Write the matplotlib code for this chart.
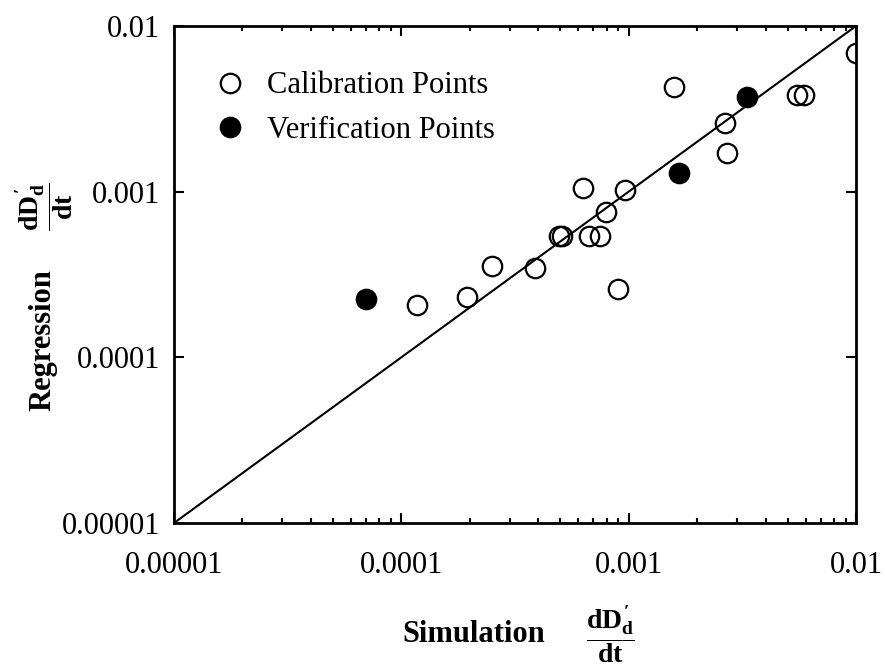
import matplotlib
matplotlib.use("Agg")
import matplotlib.pyplot as plt
from matplotlib.ticker import FixedLocator, FixedFormatter, LogLocator, NullFormatter, NullLocator

# Serif type for everything, bold serif inside math labels
plt.rcParams['font.family'] = ['Liberation Serif', 'DejaVu Serif']
plt.rcParams['mathtext.fontset'] = 'custom'
plt.rcParams['mathtext.rm'] = 'Liberation Serif:bold'
plt.rcParams['mathtext.it'] = 'Liberation Serif:bold'
plt.rcParams['mathtext.bf'] = 'Liberation Serif:bold'

# Calibration points (simulated vs. regression dD/dt)
calib_sim = [0.0100, 0.00551, 0.00591, 0.00158, 0.00265, 0.00271, 0.000964,
             0.000629, 0.000795, 0.000494, 0.000509, 0.000670, 0.000748,
             0.000387, 0.000251, 0.000195, 0.000117, 0.000897]
calib_reg = [0.00685, 0.00383, 0.00383, 0.00428, 0.00259, 0.00171, 0.00102,
             0.00105, 0.000753, 0.000540, 0.000540, 0.000540, 0.000540,
             0.000346, 0.000356, 0.000231, 0.000207, 0.000258]

# Verification points
verif_sim = [0.0000700, 0.00167, 0.00332]
verif_reg = [0.000225, 0.00129, 0.00372]

# 1:1 line and axis ticks
diag = [0.00001, 0.01]
tick_vals = [0.00001, 0.0001, 0.001, 0.01]
tick_labels = ['0.00001', '0.0001', '0.001', '0.01']

W, H = 885, 669


def px(x, y):
    return x / W, 1 - y / H


fig = plt.figure(figsize=(W / 100, H / 100), dpi=100)
ax = fig.add_axes([174 / W, 1 - 523 / H, 682 / W, 497 / H])

ax.plot(diag, diag, color='black', lw=1.5, zorder=2)
ax.plot(calib_sim, calib_reg, linestyle='none', marker='o', ms=14,
        mfc='none', mec='black', mew=1.6, label='Calibration Points', zorder=3)
ax.plot(verif_sim, verif_reg, linestyle='none', marker='o', ms=14,
        mfc='black', mec='black', mew=1.6, label='Verification Points', zorder=3)

ax.set_xscale('log')
ax.set_yscale('log')
ax.set_xlim(diag)
ax.set_ylim(diag)

ax.xaxis.set_major_locator(FixedLocator(tick_vals))
ax.xaxis.set_major_formatter(FixedFormatter(tick_labels))
ax.xaxis.set_minor_locator(LogLocator(base=10, subs=range(2, 10)))
ax.xaxis.set_minor_formatter(NullFormatter())
ax.yaxis.set_major_locator(FixedLocator(tick_vals))
ax.yaxis.set_major_formatter(FixedFormatter(tick_labels))
ax.yaxis.set_minor_locator(NullLocator())

ax.tick_params(which='both', direction='in', top=True, right=True,
               width=1.5, labelsize=22)
ax.tick_params(which='major', length=7)
ax.tick_params(which='minor', length=3.5)
ax.tick_params(axis='x', pad=20)
ax.tick_params(axis='y', pad=10)
for s in ax.spines.values():
    s.set_linewidth(2)

ax.legend(loc='upper left', bbox_to_anchor=(0.06, 0.909), frameon=False,
          fontsize=22, handlelength=1.0, handletextpad=0.7, labelspacing=0.5,
          borderpad=0, borderaxespad=0)

# axis titles with fraction
frac = r"$\dfrac{dD_{d}'}{dt}$"
fig.text(*px(474, 634), 'Simulation', fontsize=22, fontweight='bold',
         ha='center', va='center')
fig.text(*px(610, 634), frac, fontsize=20, ha='center', va='center')
fig.text(*px(43, 340), 'Regression', fontsize=22, fontweight='bold',
         rotation=90, ha='center', va='center')
fig.text(*px(44, 207), frac, fontsize=20, rotation=90,
         ha='center', va='center')

fig.savefig('out.png', dpi=100)
